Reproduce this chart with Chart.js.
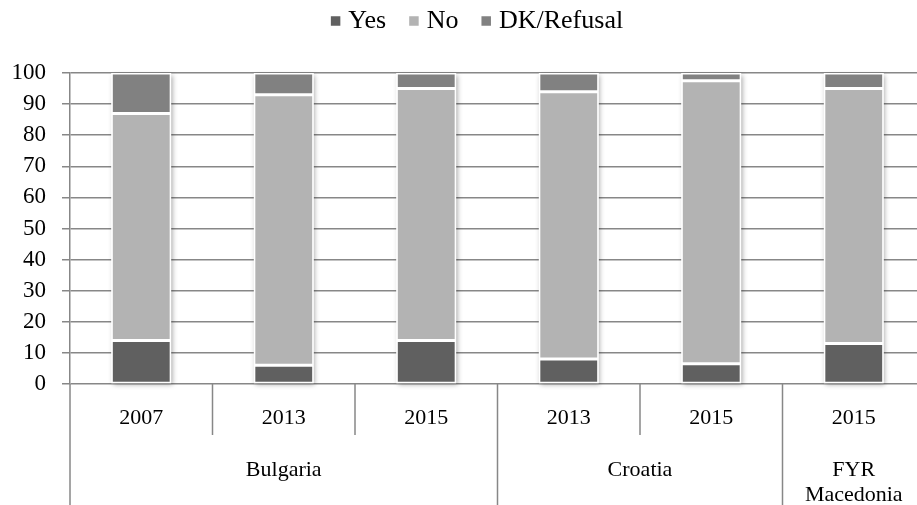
<!DOCTYPE html>
<html>
<head>
<meta charset="utf-8">
<script src="https://cdn.jsdelivr.net/npm/chart.js@4"></script>
<style>
  html, body { margin: 0; padding: 0; background: #fff; overflow: hidden; }
  #wrap { width: 925px; height: 505px; }
</style>
</head>
<body>
<div id="wrap"><canvas id="chart"></canvas></div>
<script>
// Data
const years = ['2007', '2013', '2015', '2013', '2015', '2015'];
const countries = [['Bulgaria'], ['Croatia'], ['FYR', 'Macedonia']];
const countrySizes = [3, 2, 1];
const yesValues = [14, 6, 14, 8, 6.5, 13];
const noValues = [73, 87, 81, 86, 91, 82];
const dkValues = [13, 7, 5, 6, 2.5, 5];
const yTicks = [0, 10, 20, 30, 40, 50, 60, 70, 80, 90, 100];

const FONT = '"Liberation Serif", "Times New Roman", serif';
const LINE = '#878787';

// soft shadow behind each stacked column
const shadowPlugin = {
  id: 'shadow',
  beforeDatasetsDraw(chart) {
    const ctx = chart.ctx;
    const first = chart.getDatasetMeta(0).data;
    const last = chart.getDatasetMeta(chart.data.datasets.length - 1).data;
    ctx.save();
    ctx.shadowColor = 'rgba(0,0,0,0.35)';
    ctx.shadowBlur = 5;
    ctx.shadowOffsetX = 1.5;
    ctx.shadowOffsetY = 1.5;
    ctx.fillStyle = '#fff';
    first.forEach((bar, i) => {
      const top = last[i].y;
      ctx.fillRect(bar.x - bar.width / 2, top, bar.width, bar.base - top);
    });
    ctx.restore();
  }
};

// category separators, country labels and legend
const axisPlugin = {
  id: 'groupAxis',
  afterDraw(chart) {
    const ctx = chart.ctx;
    const x = chart.scales.x;
    const area = chart.chartArea;
    const H = chart.height;
    const step = (x.right - x.left) / years.length;
    ctx.save();
    ctx.strokeStyle = LINE;
    ctx.lineWidth = 1.5;
    const groupEdges = [0];
    countrySizes.forEach(n => groupEdges.push(groupEdges[groupEdges.length - 1] + n));
    for (let i = 0; i <= years.length; i++) {
      const px = x.left + i * step;
      const full = groupEdges.includes(i);
      ctx.beginPath();
      ctx.moveTo(px, area.bottom);
      ctx.lineTo(px, full ? H : area.bottom + 51);
      ctx.stroke();
    }
    // country labels
    ctx.fillStyle = '#000';
    ctx.font = '22px ' + FONT;
    ctx.textAlign = 'center';
    ctx.textBaseline = 'middle';
    countries.forEach((lines, g) => {
      const cx = x.left + (groupEdges[g] + groupEdges[g + 1]) / 2 * step;
      lines.forEach((t, k) => ctx.fillText(t, cx, area.bottom + 86 + k * 25));
    });
    // legend
    ctx.font = '26px ' + FONT;
    const items = chart.data.datasets;
    const box = 9.5, gap = 8, between = 23;
    ctx.textAlign = 'left';
    const widths = items.map(d => box + gap + ctx.measureText(d.label).width);
    const total = widths.reduce((a, b) => a + b, 0) + between * (items.length - 1);
    let lx = 477 - total / 2;
    const ly = 21;
    items.forEach((d, k) => {
      ctx.fillStyle = d.backgroundColor;
      ctx.fillRect(lx, ly - box / 2, box, box);
      ctx.fillStyle = '#000';
      ctx.fillText(d.label, lx + box + gap, ly);
      lx += widths[k] + between;
    });
    ctx.restore();
  }
};

const barStyle = {
  borderColor: '#ffffff',
  borderWidth: 1.5,
  borderSkipped: false,
  barPercentage: 0.42,
  categoryPercentage: 1
};

new Chart(document.getElementById('chart'), {
  type: 'bar',
  data: {
    labels: years,
    datasets: [
      { label: 'Yes', data: yesValues, backgroundColor: '#606060', ...barStyle },
      { label: 'No', data: noValues, backgroundColor: '#b3b3b3', ...barStyle },
      { label: 'DK/Refusal', data: dkValues, backgroundColor: '#818181', ...barStyle }
    ]
  },
  options: {
    responsive: true,
    maintainAspectRatio: false,
    animation: false,
    layout: { padding: { top: 73, right: 0, bottom: 0, left: 0 } },
    plugins: {
      legend: { display: false },
      tooltip: { enabled: false }
    },
    scales: {
      x: {
        stacked: true,
        grid: { display: false },
        border: { display: false },
        ticks: { color: '#000', font: { family: FONT, size: 22 }, padding: 13, maxRotation: 0 },
        afterFit(scale) { scale.height = 121; }
      },
      y: {
        stacked: true,
        min: 0,
        max: 100,
        afterBuildTicks(scale) { scale.ticks = yTicks.map(v => ({ value: v })); },
        grid: { color: LINE, lineWidth: 1.5, tickLength: 8 },
        border: { color: LINE, width: 1.5 },
        ticks: { color: '#000', font: { family: FONT, size: 23 }, padding: 16 },
        afterFit(scale) { scale.width = 70; }
      }
    }
  },
  plugins: [shadowPlugin, axisPlugin]
});
</script>
</body>
</html>
